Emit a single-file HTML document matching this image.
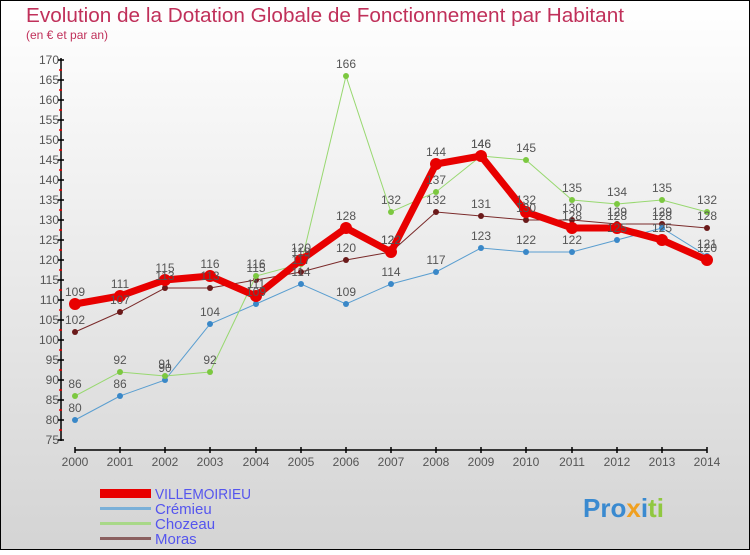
<!DOCTYPE html>
<html><head><meta charset="utf-8"><style>
body{margin:0}
svg text{font-family:"Liberation Sans",sans-serif}
</style></head><body>
<svg width="750" height="550" xmlns="http://www.w3.org/2000/svg">
<defs><linearGradient id="bg" x1="0" y1="0" x2="0" y2="1"><stop offset="0" stop-color="#ffffff"/><stop offset="1" stop-color="#d4d4d4"/></linearGradient></defs>
<rect x="0.5" y="0.5" width="749" height="549" fill="url(#bg)" stroke="#000"/>
<text x="26" y="22" font-size="20" fill="#c0305a" textLength="598" lengthAdjust="spacingAndGlyphs">Evolution de la Dotation Globale de Fonctionnement par Habitant</text>
<text x="26" y="39" font-size="12" fill="#c0305a">(en € et par an)</text>
<g stroke="#000" stroke-width="1.5">
<line x1="61" y1="58" x2="61" y2="441"/>
<line x1="75" y1="450" x2="707" y2="450"/>
</g>
<g font-size="12" fill="#555" text-anchor="end">
<text x="59" y="64">170</text><text x="59" y="84">165</text><text x="59" y="104">160</text><text x="59" y="124">155</text><text x="59" y="144">150</text><text x="59" y="164">145</text><text x="59" y="184">140</text><text x="59" y="204">135</text><text x="59" y="224">130</text><text x="59" y="244">125</text><text x="59" y="264">120</text><text x="59" y="284">115</text><text x="59" y="304">110</text><text x="59" y="324">105</text><text x="59" y="344">100</text><text x="59" y="364">95</text><text x="59" y="384">90</text><text x="59" y="404">85</text><text x="59" y="424">80</text><text x="59" y="444">75</text>
</g>
<g stroke="#000" stroke-width="1.5">
<path d="M58 60h6M58 80h6M58 100h6M58 120h6M58 140h6M58 160h6M58 180h6M58 200h6M58 220h6M58 240h6M58 260h6M58 280h6M58 300h6M58 320h6M58 340h6M58 360h6M58 380h6M58 400h6M58 420h6M58 440h6"/>
<path d="M75 447v6M120 447v6M165 447v6M210 447v6M256 447v6M301 447v6M346 447v6M391 447v6M436 447v6M481 447v6M526 447v6M572 447v6M617 447v6M662 447v6M707 447v6"/>
</g>
<g stroke="#e00" stroke-width="1.5">
<path d="M59 70h3M59 90h3M59 110h3M59 130h3M59 150h3M59 170h3M59 190h3M59 210h3M59 230h3M59 250h3M59 270h3M59 290h3M59 310h3M59 330h3M59 350h3M59 370h3M59 390h3M59 410h3M59 430h3"/>
</g>
<g font-size="12" fill="#555" text-anchor="middle">
<text x="75" y="466">2000</text><text x="120" y="466">2001</text><text x="165" y="466">2002</text><text x="210" y="466">2003</text><text x="256" y="466">2004</text><text x="301" y="466">2005</text><text x="346" y="466">2006</text><text x="391" y="466">2007</text><text x="436" y="466">2008</text><text x="481" y="466">2009</text><text x="526" y="466">2010</text><text x="572" y="466">2011</text><text x="617" y="466">2012</text><text x="662" y="466">2013</text><text x="707" y="466">2014</text>
</g>
<polyline fill="none" stroke="#7a2a2a" stroke-width="1" points="75,332 120,312 165,288 210,288 256,280 301,272 346,260 391,252 436,212 481,216 526,220 572,220 617,224 662,224 707,228"/>
<g fill="#6b1a1a"><circle cx="75" cy="332" r="3"/><circle cx="120" cy="312" r="3"/><circle cx="165" cy="288" r="3"/><circle cx="210" cy="288" r="3"/><circle cx="256" cy="280" r="3"/><circle cx="301" cy="272" r="3"/><circle cx="346" cy="260" r="3"/><circle cx="391" cy="252" r="3"/><circle cx="436" cy="212" r="3"/><circle cx="481" cy="216" r="3"/><circle cx="526" cy="220" r="3"/><circle cx="572" cy="220" r="3"/><circle cx="617" cy="224" r="3"/><circle cx="662" cy="224" r="3"/><circle cx="707" cy="228" r="3"/></g>
<polyline fill="none" stroke="#5a9ed0" stroke-width="1" points="75,420 120,396 165,380 210,324 256,304 301,284 346,304 391,284 436,272 481,248 526,252 572,252 617,240 662,228 707,256"/>
<g fill="#3a88c8"><circle cx="75" cy="420" r="3"/><circle cx="120" cy="396" r="3"/><circle cx="165" cy="380" r="3"/><circle cx="210" cy="324" r="3"/><circle cx="256" cy="304" r="3"/><circle cx="301" cy="284" r="3"/><circle cx="346" cy="304" r="3"/><circle cx="391" cy="284" r="3"/><circle cx="436" cy="272" r="3"/><circle cx="481" cy="248" r="3"/><circle cx="526" cy="252" r="3"/><circle cx="572" cy="252" r="3"/><circle cx="617" cy="240" r="3"/><circle cx="662" cy="228" r="3"/><circle cx="707" cy="256" r="3"/></g>
<polyline fill="none" stroke="#98d870" stroke-width="1" points="75,396 120,372 165,376 210,372 256,276 301,264 346,76 391,212 436,192 481,156 526,160 572,200 617,204 662,200 707,212"/>
<g fill="#7cc840"><circle cx="75" cy="396" r="3"/><circle cx="120" cy="372" r="3"/><circle cx="165" cy="376" r="3"/><circle cx="210" cy="372" r="3"/><circle cx="256" cy="276" r="3"/><circle cx="301" cy="264" r="3"/><circle cx="346" cy="76" r="3"/><circle cx="391" cy="212" r="3"/><circle cx="436" cy="192" r="3"/><circle cx="481" cy="156" r="3"/><circle cx="526" cy="160" r="3"/><circle cx="572" cy="200" r="3"/><circle cx="617" cy="204" r="3"/><circle cx="662" cy="200" r="3"/><circle cx="707" cy="212" r="3"/></g>
<polyline fill="none" stroke="#e80000" stroke-width="7" stroke-linejoin="round" points="75,304 120,296 165,280 210,276 256,296 301,260 346,228 391,252 436,164 481,156 526,212 572,228 617,228 662,240 707,260"/>
<g fill="#e80000"><circle cx="75" cy="304" r="6"/><circle cx="120" cy="296" r="6"/><circle cx="165" cy="280" r="6"/><circle cx="210" cy="276" r="6"/><circle cx="256" cy="296" r="6"/><circle cx="301" cy="260" r="6"/><circle cx="346" cy="228" r="6"/><circle cx="391" cy="252" r="6"/><circle cx="436" cy="164" r="6"/><circle cx="481" cy="156" r="6"/><circle cx="526" cy="212" r="6"/><circle cx="572" cy="228" r="6"/><circle cx="617" cy="228" r="6"/><circle cx="662" cy="240" r="6"/><circle cx="707" cy="260" r="6"/></g>
<g font-size="12" fill="#555" text-anchor="middle">
<text x="75" y="324">102</text><text x="120" y="304">107</text><text x="165" y="280">113</text><text x="210" y="280">113</text><text x="256" y="272">115</text><text x="301" y="264">117</text><text x="346" y="252">120</text><text x="391" y="244">122</text><text x="436" y="204">132</text><text x="481" y="208">131</text><text x="526" y="212">130</text><text x="572" y="212">130</text><text x="617" y="216">129</text><text x="662" y="216">129</text><text x="707" y="220">128</text>
<text x="75" y="412">80</text><text x="120" y="388">86</text><text x="165" y="372">90</text><text x="210" y="316">104</text><text x="256" y="296">109</text><text x="301" y="276">114</text><text x="346" y="296">109</text><text x="391" y="276">114</text><text x="436" y="264">117</text><text x="481" y="240">123</text><text x="526" y="244">122</text><text x="572" y="244">122</text><text x="617" y="232">125</text><text x="662" y="220">128</text><text x="707" y="248">121</text>
<text x="75" y="388">86</text><text x="120" y="364">92</text><text x="165" y="368">91</text><text x="210" y="364">92</text><text x="256" y="268">116</text><text x="301" y="256">119</text><text x="346" y="68">166</text><text x="391" y="204">132</text><text x="436" y="184">137</text><text x="481" y="148">146</text><text x="526" y="152">145</text><text x="572" y="192">135</text><text x="617" y="196">134</text><text x="662" y="192">135</text><text x="707" y="204">132</text>
<text x="75" y="296">109</text><text x="120" y="288">111</text><text x="165" y="272">115</text><text x="210" y="268">116</text><text x="256" y="288">111</text><text x="301" y="252">120</text><text x="346" y="220">128</text><text x="391" y="244">122</text><text x="436" y="156">144</text><text x="481" y="148">146</text><text x="526" y="204">132</text><text x="572" y="220">128</text><text x="617" y="220">128</text><text x="662" y="232">125</text><text x="707" y="252">120</text>
</g>
<rect x="100" y="489" width="51" height="9" fill="#e80000"/>
<rect x="100" y="507" width="51" height="3" fill="#7ab0d8"/>
<rect x="100" y="522" width="51" height="3" fill="#a8d888"/>
<rect x="100" y="537" width="51" height="3" fill="#8a6060"/>
<g font-size="15" fill="#5555ee">
<text x="155" y="499" textLength="96" lengthAdjust="spacingAndGlyphs">VILLEMOIRIEU</text><text x="155" y="514">Crémieu</text><text x="155" y="529">Chozeau</text><text x="155" y="544">Moras</text>
</g>
<text x="583" y="517" font-size="26" font-weight="bold"><tspan fill="#3a8ad0">Pro</tspan><tspan fill="#f0a020">x</tspan><tspan fill="#3a8ad0">i</tspan><tspan fill="#90c840">ti</tspan></text>
</svg>
</body></html>
